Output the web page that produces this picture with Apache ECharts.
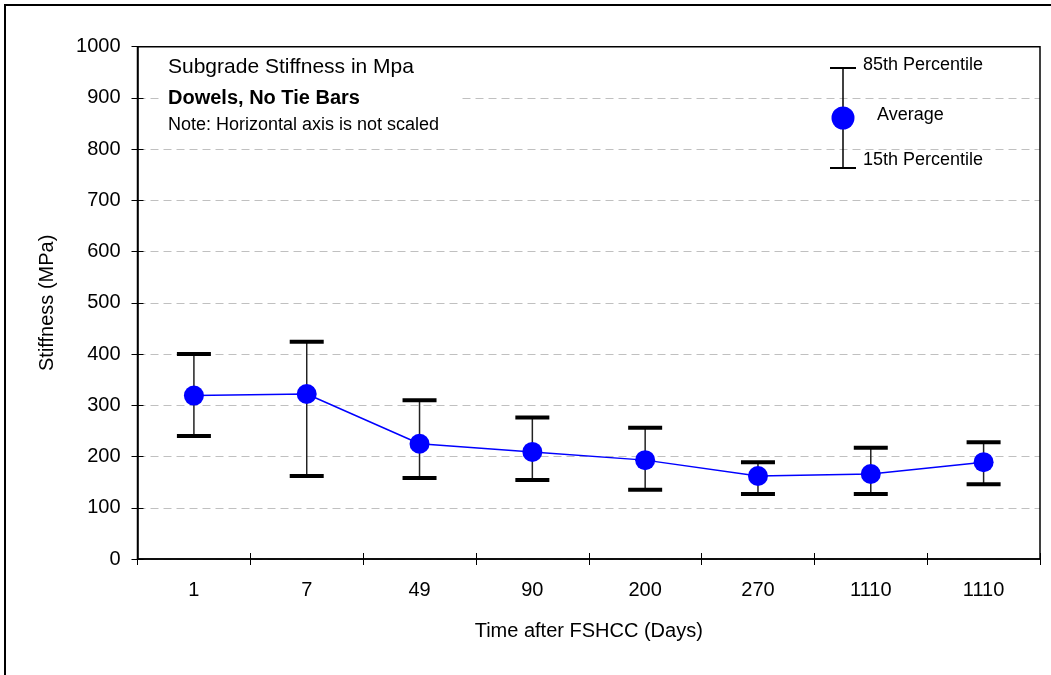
<!DOCTYPE html>
<html>
<head>
<meta charset="utf-8">
<script src="https://cdn.jsdelivr.net/npm/echarts@6/dist/echarts.min.js"></script>
<style>html,body{margin:0;padding:0;background:#fff;}#c{width:1051px;height:675px;}</style>
</head>
<body>
<div id="c"></div>
<script>
var categories = ['1', '7', '49', '90', '200', '270', '1110', '1110'];
var averageValues = [319, 322, 225, 209, 193, 162, 166, 189];
var p85Values = [400, 424, 310, 276, 256, 189, 217, 228];
var p15Values = [240, 162, 158, 154, 135, 127, 127, 146];
var yTicks = [0, 100, 200, 300, 400, 500, 600, 700, 800, 900, 1000];

var FONT = 'Liberation Sans, Arial, sans-serif';
var chart = echarts.init(document.getElementById('c'), null, {renderer: 'canvas'});

var errData = categories.map(function (c, i) { return [i, p15Values[i], p85Values[i]]; });

var G = {left: 137.5, top: 46.7, right: 1040, bottom: 559};

var option = {
  animation: false,
  backgroundColor: '#ffffff',
  grid: {left: G.left, top: G.top, right: 1051 - G.right, bottom: 675 - G.bottom, show: false},
  xAxis: [{
    type: 'category',
    data: categories,
    boundaryGap: true,
    position: 'bottom',
    axisLine: {lineStyle: {color: '#000', width: 1.5}},
    axisTick: {show: true, alignWithLabel: false, length: 6, lineStyle: {color: '#000', width: 1}},
    axisLabel: {color: '#000', fontSize: 20, fontFamily: FONT, margin: 21},
    name: 'Time after FSHCC (Days)',
    nameLocation: 'middle',
    nameGap: 62,
    nameTextStyle: {color: '#000', fontSize: 20, fontFamily: FONT}
  }, {
    type: 'category',
    data: categories,
    boundaryGap: true,
    position: 'bottom',
    offset: 0,
    axisLine: {show: false},
    axisTick: {show: true, inside: true, length: 6, lineStyle: {color: '#000', width: 1}},
    axisLabel: {show: false},
    splitLine: {show: false}
  }],
  yAxis: [{
    type: 'value',
    min: yTicks[0], max: yTicks[yTicks.length - 1], interval: 100,
    axisLine: {show: true, lineStyle: {color: '#000', width: 1.5}},
    axisTick: {show: true, length: 6, lineStyle: {color: '#000', width: 1}},
    axisLabel: {color: '#000', fontSize: 20, fontFamily: FONT, margin: 17, formatter: function (v) { return String(v); }},
    splitLine: {show: true, lineStyle: {color: '#c0c0c0', type: [8, 5], width: 1}},
    name: 'Stiffness (MPa)',
    nameLocation: 'middle',
    nameGap: 80,
    nameTextStyle: {color: '#000', fontSize: 20, fontFamily: FONT}
  }, {
    type: 'value', position: 'left',
    min: yTicks[0], max: yTicks[yTicks.length - 1], interval: 100,
    axisLine: {show: false},
    axisTick: {show: true, inside: true, length: 6, lineStyle: {color: '#000', width: 1}},
    axisLabel: {show: false},
    splitLine: {show: false}
  }],
  series: [{
    type: 'custom',
    z: 2,
    renderItem: function (params, api) {
      var x = api.value(0);
      var lo = api.coord([x, api.value(1)]);
      var hi = api.coord([x, api.value(2)]);
      var hw = 17;
      return {
        type: 'group',
        children: [
          {type: 'line', shape: {x1: lo[0], y1: lo[1], x2: hi[0], y2: hi[1]}, style: {stroke: '#222', lineWidth: 1.5}},
          {type: 'line', shape: {x1: hi[0] - hw, y1: hi[1], x2: hi[0] + hw, y2: hi[1]}, style: {stroke: '#000', lineWidth: 4}},
          {type: 'line', shape: {x1: lo[0] - hw, y1: lo[1], x2: lo[0] + hw, y2: lo[1]}, style: {stroke: '#000', lineWidth: 4}}
        ]
      };
    },
    encode: {x: 0, y: [1, 2]},
    data: errData
  }, {
    type: 'line',
    z: 3,
    data: averageValues,
    symbol: 'circle',
    symbolSize: 20,
    itemStyle: {color: '#0000ff'},
    lineStyle: {color: '#0000ff', width: 1.5}
  }],
  graphic: [
    {type: 'rect', z: 1, shape: {x: 5, y: 5, width: 1060, height: 700}, style: {fill: 'none', stroke: '#000', lineWidth: 2}, silent: true},
    {type: 'rect', z: 10, shape: {x: 160, y: 52, width: 298, height: 86}, style: {fill: '#fff'}, silent: true},
    {type: 'rect', z: 20, shape: {x: G.left, y: G.top, width: G.right - G.left, height: G.bottom - G.top}, style: {fill: 'none', stroke: '#000', lineWidth: 1.5}, silent: true},
    {type: 'text', z: 11, x: 168, y: 67, style: {text: 'Subgrade Stiffness in Mpa', fontSize: 21, fontFamily: FONT, fill: '#000', verticalAlign: 'middle'}},
    {type: 'text', z: 11, x: 168, y: 98, style: {text: 'Dowels, No Tie Bars', fontSize: 20, fontWeight: 'bold', fontFamily: FONT, fill: '#000', verticalAlign: 'middle'}},
    {type: 'text', z: 11, x: 168, y: 125, style: {text: 'Note: Horizontal axis is not scaled', fontSize: 18, fontFamily: FONT, fill: '#000', verticalAlign: 'middle'}},
    {type: 'line', z: 11, shape: {x1: 843, y1: 68, x2: 843, y2: 168}, style: {stroke: '#000', lineWidth: 1.5}},
    {type: 'line', z: 11, shape: {x1: 830, y1: 68, x2: 856, y2: 68}, style: {stroke: '#000', lineWidth: 2}},
    {type: 'line', z: 11, shape: {x1: 830, y1: 168, x2: 856, y2: 168}, style: {stroke: '#000', lineWidth: 2}},
    {type: 'circle', z: 12, shape: {cx: 843, cy: 118, r: 11.5}, style: {fill: '#0000ff'}},
    {type: 'text', z: 11, x: 863, y: 65, style: {text: '85th Percentile', fontSize: 18, fontFamily: FONT, fill: '#000', verticalAlign: 'middle'}},
    {type: 'text', z: 11, x: 877, y: 115, style: {text: 'Average', fontSize: 18, fontFamily: FONT, fill: '#000', verticalAlign: 'middle'}},
    {type: 'text', z: 11, x: 863, y: 160, style: {text: '15th Percentile', fontSize: 18, fontFamily: FONT, fill: '#000', verticalAlign: 'middle'}}
  ]
};
chart.setOption(option);
</script>
</body>
</html>
